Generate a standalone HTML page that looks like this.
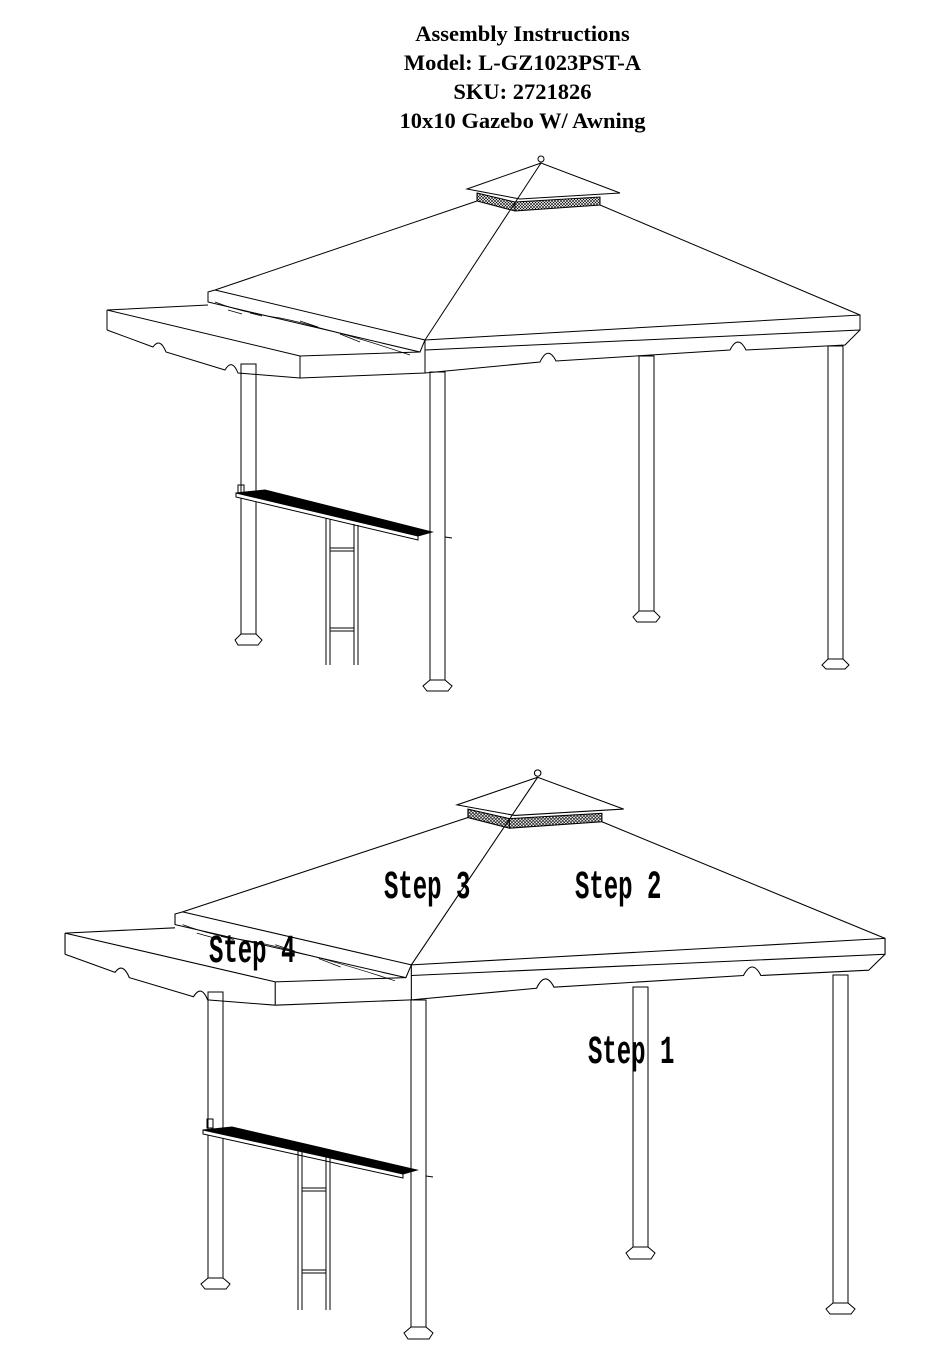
<!DOCTYPE html>
<html><head><meta charset="utf-8"><style>
html,body{margin:0;padding:0;background:#fff;}
.t{position:absolute;left:0;width:1045px;text-align:center;font-family:"Liberation Serif",serif;font-weight:bold;font-size:22.5px;color:#000;}
</style></head><body>
<div style="position:relative;width:950px;height:1368px;overflow:hidden;">
<div class="t" style="top:21px">Assembly Instructions</div>
<div class="t" style="top:50px">Model: L-GZ1023PST-A</div>
<div class="t" style="top:79px">SKU: 2721826</div>
<div class="t" style="top:108px">10x10 Gazebo W/ Awning</div>
<svg width="950" height="1368" style="position:absolute;left:0;top:0">
<defs>
<pattern id="mesh" width="3" height="3" patternUnits="userSpaceOnUse"><rect width="3" height="3" fill="#fff"/><path d="M0 0L3 3M3 0L0 3" stroke="#000" stroke-width="0.6"/></pattern>
<g id="roof" fill="none" stroke="#000" stroke-width="1">
 <circle cx="541" cy="159" r="3"/>
 <polygon points="541,163 467,189 520,199 620,193" fill="#fff"/>
 <polygon points="477,193 515,202 600,197 600,205 515,211 477,201" fill="url(#mesh)"/>
 <line x1="515" y1="202" x2="515" y2="211"/>
 <line x1="541" y1="163" x2="425" y2="340"/>
 <line x1="477" y1="201" x2="215" y2="290"/>
 <line x1="600" y1="205" x2="860" y2="315"/>
 <polyline points="425,340 860,315 860,330 425,350"/>
 <line x1="425" y1="340" x2="425" y2="373"/>
 <path d="M425,373 L540,362 Q548,345 556,361 L730,350 Q738,334 746,350 L845,345 L860,330"/>
 <polyline points="215,290 425,340 420,352 208,302 208,292 215,290"/>
 <path d="M215,302 Q240,312 280,318 Q300,322 320,328 Q360,338 410,355" stroke-width="0.7"/>
 <path d="M228,310 l14,4 M250,313 l12,3 M300,321 l18,6 M340,334 l20,8" stroke-width="0.7"/>
 <polyline points="208,305 107,310 300,356 420,352"/>
 <line x1="107" y1="310" x2="107" y2="330"/>
 <path d="M107,330 L153,347 Q160,337 166,352 L225,370 Q232,358 238,373 L300,378"/>
 <line x1="300" y1="356" x2="300" y2="378"/>
 <line x1="300" y1="378" x2="425" y2="373"/>
</g>
</defs>
<g fill="none" stroke="#000" stroke-width="1">
<use href="#roof"/>
 <rect x="241" y="364" width="15" height="270"/>
 <polygon points="241,634 256,634 262,640 258,645 238,645 235,640"/>
 <rect x="430" y="372" width="15" height="308"/>
 <polygon points="430,680 445,680 452,686 448,691 427,691 423,686"/>
 <rect x="639" y="356" width="15" height="255"/>
 <polygon points="639,611 654,611 660,617 656,622 637,622 633,617"/>
 <rect x="828" y="346" width="15" height="313"/>
 <polygon points="828,659 843,659 849,665 845,669 826,669 822,665"/>
 <polygon points="236,493 265,490 432,532 418,536" fill="#000"/>
 <polygon points="236,493 418,536 418,540 236,497" fill="#fff"/>
 <line x1="445" y1="537" x2="452" y2="538"/>
 <rect x="238" y="485" width="6" height="8"/>
 <line x1="326" y1="518" x2="326" y2="665"/>
 <line x1="330" y1="519" x2="330" y2="665"/>
 <line x1="354" y1="524" x2="354" y2="665"/>
 <line x1="358" y1="525" x2="358" y2="665"/>
 <line x1="330" y1="548" x2="354" y2="548"/>
 <line x1="330" y1="551" x2="354" y2="551"/>
 <line x1="330" y1="628" x2="354" y2="628"/>
 <line x1="330" y1="631" x2="354" y2="631"/>
</g>
<g fill="none" stroke="#000" stroke-width="1">
<use href="#roof" transform="matrix(1.089 0 0 1.06 -51.5 604.5)"/>
 <rect x="208" y="992" width="15" height="286"/>
 <polygon points="208,1278 223,1278 230,1284 226,1289 205,1289 201,1284"/>
 <rect x="411" y="1000" width="15" height="327"/>
 <polygon points="411,1327 426,1327 433,1333 429,1339 408,1339 404,1333"/>
 <rect x="633" y="987" width="15" height="260"/>
 <polygon points="633,1247 648,1247 655,1253 651,1259 630,1259 626,1253"/>
 <rect x="833" y="975" width="15" height="328"/>
 <polygon points="833,1303 848,1303 855,1309 851,1314 830,1314 826,1309"/>
 <polygon points="203,1130 232,1127 417,1170 403,1174" fill="#000"/>
 <polygon points="203,1130 403,1174 403,1178 203,1134" fill="#fff"/>
 <line x1="426" y1="1176" x2="433" y2="1177"/>
 <rect x="207" y="1119" width="6" height="9"/>
 <line x1="298" y1="1150" x2="298" y2="1310"/>
 <line x1="302" y1="1151" x2="302" y2="1310"/>
 <line x1="326" y1="1157" x2="326" y2="1310"/>
 <line x1="330" y1="1158" x2="330" y2="1310"/>
 <line x1="302" y1="1188" x2="326" y2="1188"/>
 <line x1="302" y1="1191" x2="326" y2="1191"/>
 <line x1="302" y1="1270" x2="326" y2="1270"/>
 <line x1="302" y1="1273" x2="326" y2="1273"/>
</g>
<g font-family="Liberation Mono, DejaVu Sans Mono, monospace" font-size="40" font-weight="bold">
<text transform="translate(384,898) scale(0.6,1)">Step 3</text>
<text transform="translate(575,898) scale(0.6,1)">Step 2</text>
<text transform="translate(209,962) scale(0.6,1)">Step 4</text>
<text transform="translate(588,1063) scale(0.6,1)">Step 1</text>
</g>
</svg>
</div>
</body></html>
